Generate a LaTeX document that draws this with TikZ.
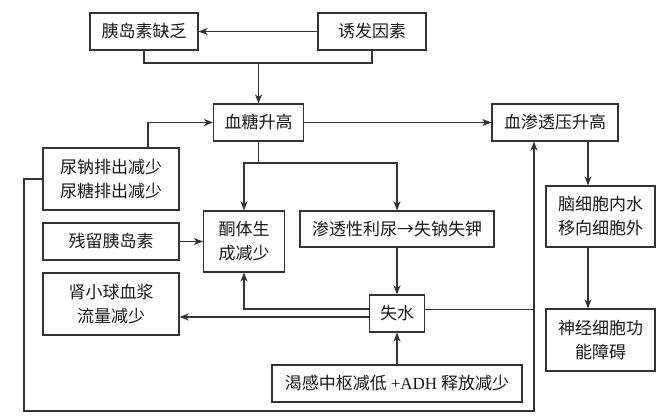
\documentclass[tikz,border=0pt]{standalone}
\usepackage{fontspec}
\setmainfont{Liberation Serif}
\newfontfamily\cjk{Noto Sans CJK SC}
\newfontfamily\lat{Liberation Serif}
\usetikzlibrary{arrows.meta,calc}
\begin{document}
\begin{tikzpicture}[x=1pt,y=-1pt,
  box/.style={draw=black!80,line width=1.1pt,rectangle,inner sep=0pt,
    font=\cjk\fontsize{17}{24}\selectfont,align=center,text=black!90},
  arr/.style={-{Stealth[length=9pt,width=7pt,inset=2.5pt]},line width=1.1pt,draw=black!80},
  ln/.style={line width=1.1pt,draw=black!80}]
\useasboundingbox[fill=white] (0,0) rectangle (670,420);

\node[box,minimum width=108pt,minimum height=37pt] (A) at (144,31.5) {胰岛素缺乏};
\node[box,minimum width=108pt,minimum height=37pt] (B) at (372,31.5) {诱发因素};
\node[box,minimum width=90pt,minimum height=37pt] (C) at (258.5,122.5) {血糖升高};
\node[box,minimum width=126pt,minimum height=37pt] (D) at (555,122.5) {血渗透压升高};
\node[box,minimum width=136pt,minimum height=62pt] (E) at (111,179) {尿钠排出减少\\尿糖排出减少};
\node[box,minimum width=81pt,minimum height=61pt] (F) at (244,241.5) {酮体生\\成减少};
\node[box,minimum width=194pt,minimum height=36pt] (G) at (397,229) {渗透性利尿→失钠失钾};
\node[box,minimum width=136pt,minimum height=37pt] (H) at (111,241.5) {残留胰岛素};
\node[box,minimum width=136pt,minimum height=62pt] (I) at (111,304) {肾小球血浆\\流量减少};
\node[box,minimum width=55pt,minimum height=37pt] (J) at (397,313.5) {失水};
\node[box,minimum width=250pt,minimum height=37pt] (K) at (397,383.5) {渴感中枢减低 {\lat +ADH} 释放减少};
\node[box,minimum width=109pt,minimum height=61pt] (L) at (600.5,216.5) {脑细胞内水\\移向细胞外};
\node[box,minimum width=109pt,minimum height=62pt] (M) at (600.5,340) {神经细胞功\\能障碍};

\coordinate (top) at (C.north |- 0,63);
\coordinate (split) at (C.south |- 0,163);
\coordinate (up) at ([xshift=-21pt]D.south);
\coordinate (bl) at (24,411);

\draw[arr] (B.west) -- (A.east);
\draw[ln] (A.south) |- (top) -| (B.south);
\draw[arr] (top) -- (C.north);
\draw[arr] (C.east) -- (D.west);
\draw[arr] ([xshift=37pt]E.north) |- (C.west);
\draw[ln] (C.south) -- (split);
\draw[arr] (split) -| (F.north);
\draw[arr] (split) -| (G.north);
\draw[arr] (H.east) -- (F.west);
\draw[arr] (G.south) -- (J.north);
\draw[arr] (K.north) -- (J.south);
\draw[arr] ([yshift=4.5pt]J.west) -| (F.south);
\draw[arr] ([yshift=-3.5pt]J.west) -- ([yshift=-3.5pt]J.west -| I.east);
\draw[arr] (E.west) -| (bl) -| (up);
\draw[ln] ([yshift=4pt]J.east) -- ([yshift=4pt]J.east -| up);
\draw[arr] ([xshift=33pt]D.south) -- ([xshift=33pt]D.south |- L.north);
\draw[arr] ([xshift=-12.5pt]L.south) -- ([xshift=-12.5pt]L.south |- M.north);
\end{tikzpicture}
\end{document}
